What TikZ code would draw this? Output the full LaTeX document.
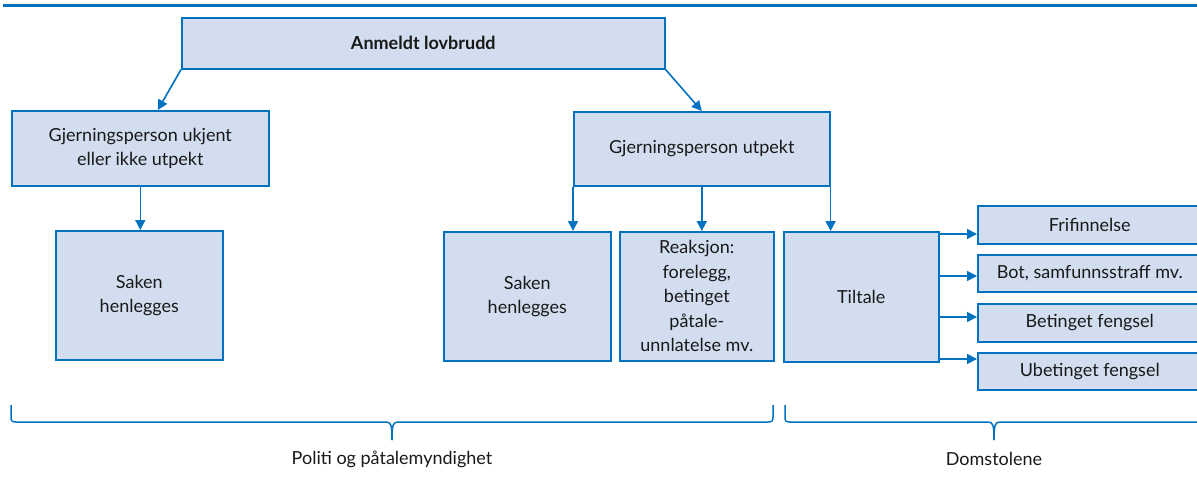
\documentclass[tikz,border=0pt]{standalone}
\usepackage{fontspec}
\setmainfont{Lato}
\usetikzlibrary{arrows.meta,calc}
\definecolor{bl}{RGB}{0,114,192}
\definecolor{bfill}{RGB}{210,222,240}
\definecolor{txt}{RGB}{25,25,25}
\tikzset{
  box/.style={draw=bl, fill=bfill, line width=1.6pt, inner sep=0pt, anchor=north west,
    align=center, text=txt, font=\fontsize{18}{24.5}\selectfont},
  arr/.style={draw=bl, line width=1.6pt, -{Triangle[length=10pt,width=10pt]}},
  brace/.style={draw=bl, line width=1.5pt},
  lbl/.style={text=txt, font=\fontsize{18}{24.5}\selectfont, inner sep=0pt}
}
\begin{document}
\begin{tikzpicture}[x=1pt,y=-1pt]
\useasboundingbox (0,0) rectangle (1197,485);
\clip (0,0) rectangle (1197,485);
% top bar
\draw[bl, line width=3.5pt] (3,5.5) -- (1200,5.5);
% nodes
\node[box, minimum width=483pt, minimum height=51pt, font=\fontsize{18}{24.5}\selectfont\bfseries] (top) at (181,17) {Anmeldt lovbrudd};
\node[box, minimum width=257pt, minimum height=75pt] (left) at (11,110) {Gjerningsperson ukjent\\eller ikke utpekt};
\node[box, minimum width=256pt, minimum height=74pt] (right) at (573,111) {Gjerningsperson utpekt};
\node[box, minimum width=167pt, minimum height=129pt] (sl) at (55,230) {Saken\\henlegges};
\node[box, minimum width=167pt, minimum height=129pt] (sr) at (443,231) {Saken\\henlegges};
\node[box, minimum width=154pt, minimum height=129pt] (reak) at (619,231) {Reaksjon:\\forelegg,\\betinget\\påtale-\\unnlatelse mv.};
\node[box, minimum width=155pt, minimum height=130pt] (tilt) at (783,231) {Tiltale};
\node[box, minimum width=224pt, minimum height=38pt] (f1) at (977,205) {Frifinnelse};
\node[box, minimum width=224pt, minimum height=37pt] (f2) at (977,254) {Bot, samfunnsstraff mv.};
\node[box, minimum width=224pt, minimum height=38pt] (f3) at (977,303) {Betinget fengsel};
\node[box, minimum width=224pt, minimum height=37pt] (f4) at (977,352) {Ubetinget fengsel};
% connectors
\draw[arr] (top.south west) -- ([xshift=17.5pt]left.north);
\draw[arr] (top.south east) -- (right.north);
\draw[arr] (left.south) -- (left.south |- sl.north);
\draw[arr] (right.south west) -- (right.south west |- sr.north);
\draw[arr] (right.south) -- (right.south |- reak.north);
\draw[arr] (right.south east) -- (right.south east |- tilt.north);
\coordinate (t1) at ([yshift=-3pt]tilt.north east);
\coordinate (t2) at ([yshift=-45pt]tilt.north east);
\coordinate (t3) at ([yshift=-86pt]tilt.north east);
\coordinate (t4) at ([yshift=-128pt]tilt.north east);
\draw[arr] (t1) -- (f1.west |- t1);
\draw[arr] (t2) -- (f2.west |- t2);
\draw[arr] (t3) -- (f3.west |- t3);
\draw[arr] (t4) -- (f4.west |- t4);
% braces
\draw[brace] (11,405) -- (11,417) .. controls (11,421) and (12,422) .. (16,422) -- (386,422)
  .. controls (391,422) and (392,425) .. (392,440);
\draw[brace] (773,405) -- (773,417) .. controls (773,421) and (772,422) .. (768,422) -- (398,422)
  .. controls (393,422) and (392,425) .. (392,440);
\draw[brace] (785,405) -- (785,417) .. controls (785,421) and (786,422) .. (790,422) -- (988,422)
  .. controls (993,422) and (994,425) .. (994,440);
\draw[brace] (1203,405) -- (1203,417) .. controls (1203,421) and (1202,422) .. (1198,422) -- (1000,422)
  .. controls (995,422) and (994,425) .. (994,440);
\node[lbl] (pol) at (392,459) {Politi og påtalemyndighet};
\node[lbl] (dom) at (994,459) {Domstolene};
\end{tikzpicture}
\end{document}
